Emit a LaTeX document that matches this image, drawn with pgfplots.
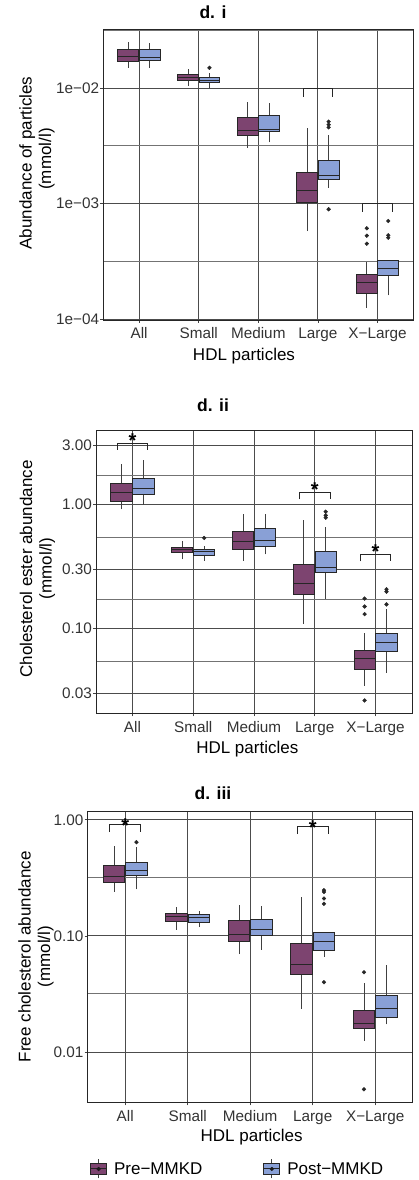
\documentclass[border=0pt]{standalone}
\usepackage{pgfplots}
\pgfplotsset{compat=1.18}
\usepackage{fontspec}
\setmainfont{Liberation Sans}
\definecolor{precol}{RGB}{125,68,112}
\definecolor{postcol}{RGB}{137,160,214}
\newcommand{\tickfont}{\fontsize{15.3bp}{18bp}\selectfont}
\newcommand{\labfont}{\fontsize{17bp}{20bp}\selectfont}
\newcommand{\titfont}{\fontsize{17.5bp}{20bp}\selectfont\bfseries}
\newcommand{\starfont}{\fontsize{20bp}{20bp}\selectfont\bfseries}

\pgfplotsset{
  hdl/.style={
    scale only axis,
    xmin=-0.6, xmax=4.6,
    xtick={0,1,2,3,4},
    xticklabels={All,Small,Medium,Large,X−Large},
    xmajorgrids, ymajorgrids, yminorgrids,
    major grid style={black!70, line width=0.85bp},
    minor grid style={black!55, line width=0.95bp},
    axis line style={black!85, line width=0.9bp},
    tick align=outside,
    tick pos=left,
    major tick length=3bp,
    minor tick length=0bp,
    tick style={black!75, line width=0.7bp},
    ticklabel style={font=\tickfont, text=black!80},
    xticklabel style={anchor=base, yshift=-16bp},
    yticklabel style={anchor=east, inner sep=1bp},
    clip=false,
  },
  pre/.style={draw=black!85, fill=precol, line width=0.9bp, mark=none, forget plot},
  post/.style={draw=black!85, fill=postcol, line width=0.9bp, mark=none, forget plot},
  whisk/.style={black!75, line width=0.7bp, mark=none, forget plot},
  medl/.style={black!85, line width=1bp, mark=none, forget plot},
  outl/.style={only marks, mark=*, mark size=1.9bp, mark options={fill=black!85, draw=black!85, line width=0.4bp}, forget plot},
  brk/.style={black!85, line width=0.8bp, mark=none, forget plot},
}
% #1 style, #2 left, #3 centre, #4 right, #5 lower whisker, #6 lower quartile, #7 median, #8 upper quartile, #9 upper whisker
\newcommand{\bx}[9]{%
  \addplot[whisk] coordinates {(#3,#5) (#3,#6)};
  \addplot[whisk] coordinates {(#3,#8) (#3,#9)};
  \addplot[#1] coordinates {(#2,#6) (#4,#6) (#4,#8) (#2,#8)} -- cycle;
  \addplot[medl] coordinates {(#2,#7) (#4,#7)};
}

\begin{document}
\begin{tikzpicture}
\path[use as bounding box] (0,0) rectangle (419bp,1180bp);

% ---------------- Panel d. i ----------------
\begin{axis}[hdl, ymode=log, at={(103.3bp,860bp)}, anchor=south west,
  width=310bp, height=290.7bp,
  ymin=9.8e-5, ymax=0.0324,
  ytick={1e-4,1e-3,1e-2}, yticklabels={1e−04,1e−03,1e−02},
  minor ytick={0.0316228,0.00316228,0.000316228}]
\bx{pre}{-0.355}{-0.18}{-0.005}{0.0151}{0.0172}{0.0188}{0.0218}{0.0251}
\bx{post}{0.005}{0.18}{0.355}{0.0151}{0.0175}{0.0184}{0.0218}{0.0248}
\bx{pre}{0.645}{0.82}{0.995}{0.0104}{0.01174}{0.01247}{0.01315}{0.01472}
\bx{post}{1.005}{1.18}{1.355}{0.0100}{0.01128}{0.01174}{0.01239}{0.01349}
\addplot[outl] coordinates {(1.18,0.01503)};
\bx{pre}{1.645}{1.82}{1.995}{0.00305}{0.00388}{0.00434}{0.00560}{0.00756}
\bx{post}{2.005}{2.18}{2.355}{0.00339}{0.00422}{0.00440}{0.00578}{0.00741}
\bx{pre}{2.645}{2.82}{2.995}{0.000578}{0.001014}{0.00130}{0.00188}{0.00449}
\bx{post}{3.005}{3.18}{3.355}{0.00137}{0.00162}{0.00174}{0.00235}{0.00393}
\addplot[outl] coordinates {(3.18,0.00513) (3.18,0.00483) (3.18,0.00458) (3.18,0.000893)};
\bx{pre}{3.645}{3.82}{3.995}{0.000125}{0.000167}{0.000208}{0.000243}{0.000311}
\addplot[outl] coordinates {(3.82,0.000611) (3.82,0.000527) (3.82,0.000449)};
\bx{post}{4.005}{4.18}{4.355}{0.000160}{0.000238}{0.000274}{0.000319}{0.000322}
\addplot[outl] coordinates {(4.18,0.000706) (4.18,0.000531) (4.18,0.000506)};
\addplot[brk] coordinates {(2.75,0.00845) (2.75,0.01) (3.25,0.01) (3.25,0.00845)};
\addplot[brk] coordinates {(3.75,0.000846) (3.75,0.001) (4.25,0.001) (4.25,0.000846)};
\end{axis}

% ---------------- Panel d. ii ----------------
\begin{axis}[hdl, ymode=log, at={(96bp,466.7bp)}, anchor=south west,
  width=316bp, height=283.3bp,
  ymin=0.0208, ymax=4.0,
  ytick={0.03,0.1,0.3,1,3}, yticklabels={0.03,0.10,0.30,1.00,3.00},
  minor ytick={1.7320508,0.5477226,0.1732051,0.0547723}]
\bx{pre}{-0.355}{-0.18}{-0.005}{0.917}{1.057}{1.242}{1.486}{2.13}
\bx{post}{0.005}{0.18}{0.355}{1.00}{1.219}{1.346}{1.630}{2.29}
\bx{pre}{0.645}{0.82}{0.995}{0.362}{0.413}{0.436}{0.456}{0.506}
\bx{post}{1.005}{1.18}{1.355}{0.353}{0.388}{0.421}{0.436}{0.464}
\addplot[outl] coordinates {(1.18,0.539)};
\bx{pre}{1.645}{1.82}{1.995}{0.353}{0.436}{0.503}{0.609}{0.836}
\bx{post}{2.005}{2.18}{2.355}{0.397}{0.464}{0.516}{0.644}{0.841}
\bx{pre}{2.645}{2.82}{2.995}{0.110}{0.189}{0.232}{0.328}{0.748}
\bx{post}{3.005}{3.18}{3.355}{0.175}{0.285}{0.312}{0.423}{0.656}
\addplot[outl] coordinates {(3.18,0.878) (3.18,0.820) (3.18,0.785)};
\bx{pre}{3.645}{3.82}{3.995}{0.0347}{0.0470}{0.0573}{0.0668}{0.0917}
\addplot[outl] coordinates {(3.82,0.175) (3.82,0.151) (3.82,0.131) (3.82,0.0264)};
\bx{post}{4.005}{4.18}{4.355}{0.0442}{0.0660}{0.0771}{0.0923}{0.143}
\addplot[outl] coordinates {(4.18,0.208) (4.18,0.199) (4.18,0.157)};
\addplot[brk] coordinates {(-0.25,2.76) (-0.25,3.12) (0.25,3.12) (0.25,2.76)};
\addplot[brk] coordinates {(2.75,1.104) (2.75,1.257) (3.25,1.257) (3.25,1.104)};
\addplot[brk] coordinates {(3.75,0.349) (3.75,0.3976) (4.25,0.3976) (4.25,0.349)};
\node[font=\starfont, anchor=base, yshift=-11.3bp, inner sep=0] at (axis cs:0,3.58) {*};
\node[font=\starfont, anchor=base, yshift=-11.3bp, inner sep=0] at (axis cs:3,1.44) {*};
\node[font=\starfont, anchor=base, yshift=-11.3bp, inner sep=0] at (axis cs:4,0.453) {*};
\end{axis}

% ---------------- Panel d. iii ----------------
\begin{axis}[hdl, ymode=log, at={(87.7bp,77.7bp)}, anchor=south west,
  width=325bp, height=291bp,
  ymin=0.003684, ymax=1.184,
  ytick={0.01,0.1,1}, yticklabels={0.01,0.10,1.00},
  minor ytick={0.3162278,0.0316228},
  legend style={at={(0.007,-0.229)}, anchor=west, draw=none, fill=none,
    legend columns=2, font=\labfont, inner sep=0pt,
    nodes={inner sep=0pt},
    /tikz/every odd column/.append style={column sep=7bp},
    /tikz/every even column/.append style={column sep=61bp}}]
\addlegendimage{legend image code/.code={
  \draw[black!75, line width=0.7bp] (8bp,-9.5bp) -- (8bp,9.5bp);
  \draw[fill=precol, draw=black!85, line width=0.9bp] (0bp,-5.8bp) rectangle (16bp,5.8bp);
  \draw[black!85, line width=0.9bp] (0bp,0bp) -- (16bp,0bp);
  \fill[black!90] (8bp,0bp) circle (1.9bp);}}
\addlegendentry{Pre−MMKD}
\addlegendimage{legend image code/.code={
  \draw[black!75, line width=0.7bp] (8bp,-9.5bp) -- (8bp,9.5bp);
  \draw[fill=postcol, draw=black!85, line width=0.9bp] (0bp,-5.8bp) rectangle (16bp,5.8bp);
  \draw[black!85, line width=0.9bp] (0bp,0bp) -- (16bp,0bp);
  \fill[black!90] (8bp,0bp) circle (1.9bp);}}
\addlegendentry{Post−MMKD}
\bx{pre}{-0.355}{-0.18}{-0.005}{0.241}{0.288}{0.325}{0.407}{0.589}
\bx{post}{0.005}{0.18}{0.355}{0.252}{0.333}{0.368}{0.426}{0.581}
\addplot[outl] coordinates {(0.18,0.642)};
\bx{pre}{0.645}{0.82}{0.995}{0.1127}{0.134}{0.147}{0.157}{0.178}
\bx{post}{1.005}{1.18}{1.355}{0.1188}{0.131}{0.143}{0.154}{0.164}
\bx{pre}{1.645}{1.82}{1.995}{0.0695}{0.0893}{0.1033}{0.1356}{0.185}
\bx{post}{2.005}{2.18}{2.355}{0.0757}{0.100}{0.1135}{0.1374}{0.1825}
\bx{pre}{2.645}{2.82}{2.995}{0.0235}{0.0461}{0.0570}{0.0865}{0.2156}
\bx{post}{3.005}{3.18}{3.355}{0.0664}{0.0748}{0.0900}{0.1069}{0.1075}
\addplot[outl] coordinates {(3.18,0.2475) (3.18,0.239) (3.18,0.210) (3.18,0.1888) (3.18,0.0399)};
\bx{pre}{3.645}{3.82}{3.995}{0.01253}{0.0160}{0.01766}{0.0229}{0.0391}
\addplot[outl] coordinates {(3.82,0.0486) (3.82,0.00477)};
\bx{post}{4.005}{4.18}{4.355}{0.0173}{0.0198}{0.0235}{0.0308}{0.0562}
\addplot[brk] coordinates {(-0.25,0.783) (-0.25,0.918) (0.25,0.918) (0.25,0.783)};
\addplot[brk] coordinates {(2.75,0.752) (2.75,0.882) (3.25,0.882) (3.25,0.752)};
\node[font=\starfont, anchor=base, yshift=-11.3bp, inner sep=0] at (axis cs:0,0.98) {*};
\node[font=\starfont, anchor=base, yshift=-11.3bp, inner sep=0] at (axis cs:3,0.936) {*};
\end{axis}

% ---------------- titles and axis titles ----------------
\node[font=\titfont, anchor=base] at (213bp,1161.7bp) {d. i};
\node[font=\titfont, anchor=base] at (213bp,768.3bp) {d. ii};
\node[font=\titfont, anchor=base] at (213bp,380.7bp) {d. iii};

\node[font=\labfont, anchor=base] at (244bp,819bp) {HDL particles};
\node[font=\labfont, anchor=base] at (247.3bp,426bp) {HDL particles};
\node[font=\labfont, anchor=base] at (251.7bp,38.3bp) {HDL particles};

\node[font=\labfont, anchor=base, rotate=90] at (31.5bp,1017bp) {Abundance of particles};
\node[font=\labfont, anchor=base, rotate=90] at (51bp,1021bp) {(mmol/l)};
\node[font=\labfont, anchor=base, rotate=90] at (32bp,611bp) {Cholesterol ester abundance};
\node[font=\labfont, anchor=base, rotate=90] at (51.5bp,611.5bp) {(mmol/l)};
\node[font=\labfont, anchor=base, rotate=90] at (30.5bp,223.3bp) {Free cholesterol abundance};
\node[font=\labfont, anchor=base, rotate=90] at (50bp,223.3bp) {(mmol/l)};
\end{tikzpicture}
\end{document}
